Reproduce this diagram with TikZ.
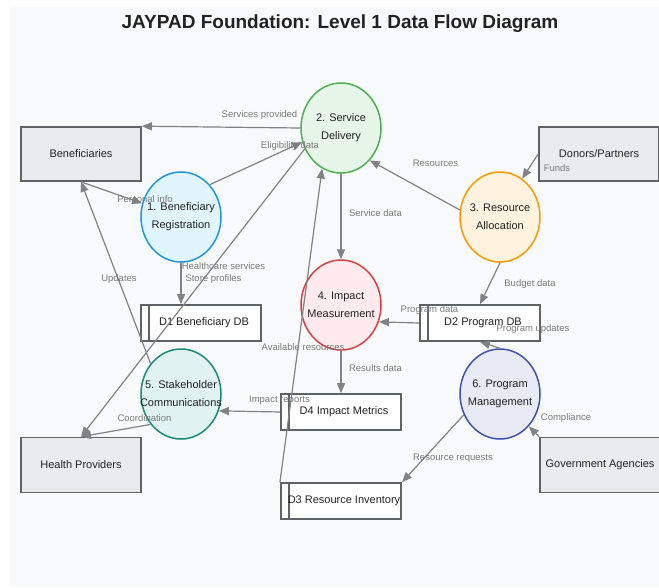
\documentclass[tikz,border=0pt]{standalone}
\usepackage{fontspec}
\setmainfont{Liberation Sans}
\usetikzlibrary{shapes.geometric,arrows.meta}
\definecolor{panel}{HTML}{F8F9FA}
\definecolor{boxline}{HTML}{5F6368}
\definecolor{boxfill}{HTML}{E9ECEF}
\definecolor{flowgray}{HTML}{7F8387}
\definecolor{lblgray}{HTML}{7A7A7A}
\definecolor{txt}{HTML}{222222}
\definecolor{grn}{HTML}{4CAF50}\definecolor{grnfill}{HTML}{E8F5E9}
\definecolor{blu}{HTML}{1E96DC}\definecolor{blufill}{HTML}{E1F5FE}
\definecolor{org}{HTML}{FF9800}\definecolor{orgfill}{HTML}{FFF3E0}
\definecolor{rd}{HTML}{D94040}\definecolor{rdfill}{HTML}{FFEBEE}
\definecolor{tl}{HTML}{1A8A7A}\definecolor{tlfill}{HTML}{E0F2F1}
\definecolor{ind}{HTML}{3F51B5}\definecolor{indfill}{HTML}{E8EAF6}
\tikzset{
  entity/.style={draw=boxline, line width=1.6pt, fill=boxfill, minimum width=120pt,
    minimum height=54pt, text=txt, font=\fontsize{11}{14}\selectfont},
  process/.style 2 args={ellipse, draw=#1, fill=#2, line width=1.5pt, minimum width=80pt,
    minimum height=90pt, inner xsep=-14pt, inner ysep=0pt, align=center, text=txt,
    font=\fontsize{11}{18}\selectfont},
  store/.style={draw=boxline, line width=1.6pt, fill=white, minimum width=120pt,
    minimum height=36pt, inner xsep=1pt, text=txt, font=\fontsize{11}{14}\selectfont,
    execute at begin node={\hspace*{6pt}},
    path picture={\draw[boxline, line width=1.5pt]
      ([xshift=8pt]path picture bounding box.north west) --
      ([xshift=8pt]path picture bounding box.south west);}},
  flow/.style={draw=flowgray, line width=1.2pt, -{Triangle[length=10pt,width=8pt]}},
  lbl/.style={text=lblgray, inner sep=0pt, font=\fontsize{9.5}{11}\selectfont}
}
\begin{document}
\begin{tikzpicture}[x=1pt,y=-1pt]
  \useasboundingbox (0,0) rectangle (659,587);
  \fill[panel] (10,7) rectangle (659,587);
  \node[font=\bfseries\fontsize{19}{22}\selectfont, text=txt] (title) at (340,24)
    {JAYPAD Foundation: Level 1 Data Flow Diagram};

  \node[entity] (ben) at (81,154) {Beneficiaries};
  \node[entity] (don) at (599,154) {Donors/Partners};
  \node[entity, minimum height=55pt] (hp) at (81,465) {Health Providers};
  \node[entity, minimum height=55pt] (gov) at (600,465) {Government Agencies};

  \node[process={grn}{grnfill}] (p2) at (341,128) {2. Service\\Delivery};
  \node[process={blu}{blufill}] (p1) at (181,217) {1. Beneficiary\\Registration};
  \node[process={org}{orgfill}] (p3) at (500,217) {3. Resource\\Allocation};
  \node[process={rd}{rdfill}] (p4) at (341,305) {4. Impact\\Measurement};
  \node[process={tl}{tlfill}] (p5) at (181,394) {5. Stakeholder\\Communications};
  \node[process={ind}{indfill}] (p6) at (500,394) {6. Program\\Management};

  \node[store] (d1) at (201,323) {D1 Beneficiary DB};
  \node[store] (d2) at (480,323) {D2 Program DB};
  \node[store] (d4) at (341,412) {D4 Impact Metrics};
  \node[store] (d3) at (341,501) {D3 Resource Inventory};

  \draw[flow] (p2.west) -- (ben.north east);
  \draw[flow] (ben.south) -- (p1);
  \draw[flow] (p1.north east) -- (p2.200);
  \draw[flow] (p1.south) -- (p1.south |- d1.north);
  \draw[flow] (p2.210) -- (hp.north);
  \draw[flow] (p2) -- (p4);
  \draw[flow] (p3.170) -- (p2.south east);
  \draw[flow] (don.west) -- (p3.60);
  \draw[flow] (p3.south) -- (d2.north);
  \draw[flow] (d2.west) -- (p4.-24);
  \draw[flow] (p6.north) -- (d2.south);
  \draw[flow] (p4) -- (d4);
  \draw[flow] (d4.west) -- (p5.-24);
  \draw[flow] (p5.225) -- (hp.north);
  \draw[flow] (p5.135) -- (ben.south);
  \draw[flow] (p6.210) -- (d3.north east);
  \draw[flow] (d3.north west) -- (p2.245);
  \draw[flow] (gov.north west) -- (p6.south east);

  \node[lbl] (lsp) at (259.5,115) {Services provided};
  \node[lbl] (lpi) at (145,199) {Personal info};
  \node[lbl] (led) at (290,146) {Eligibility data};
  \node[lbl] (lhs) at (223.5,266) {Healthcare services};
  \node[lbl] (lst) at (213.5,279) {Store profiles};
  \node[lbl] (lup) at (119,279) {Updates};
  \node[lbl] (lres) at (435.5,163) {Resources};
  \node[lbl] (lfu) at (557,168) {Funds};
  \node[lbl] (lsd) at (375.5,213) {Service data};
  \node[lbl] (lbd) at (530,284) {Budget data};
  \node[lbl] (lpd) at (429.5,310) {Program data};
  \node[lbl] (lpu) at (533,329) {Program updates};
  \node[lbl] (lrd) at (375.5,368) {Results data};
  \node[lbl] (lco) at (566,418) {Compliance};
  \node[lbl] (lrr) at (453,458) {Resource requests};
  \node[lbl] (lar) at (303,347) {Available resources};
  \node[lbl] (lir) at (279.5,400) {Impact reports};
  \node[lbl] (lcoo) at (144.5,418) {Coordination};
\end{tikzpicture}
\end{document}
